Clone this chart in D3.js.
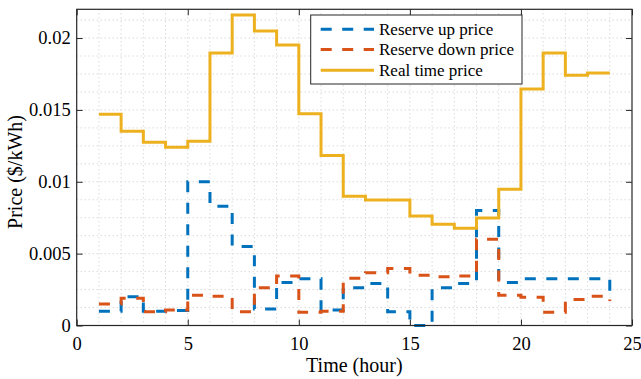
<!DOCTYPE html>
<html>
<head>
<meta charset="utf-8">
<script src="https://cdn.jsdelivr.net/npm/d3@7/dist/d3.min.js"></script>
<style>
  html, body { margin: 0; padding: 0; background: #fff; }
  svg { display: block; }
  text { font-family: "Liberation Serif", "Times New Roman", serif; fill: #000; }
</style>
</head>
<body>
<svg id="chart" width="641" height="379"></svg>
<script>
// Hourly prices ($/kWh), one value per hour 1..24
const hours = d3.range(1, 25);
const reserveUp = [0.0010, 0.0020, 0.0010, 0.00105, 0.0100, 0.0083, 0.0055, 0.00115,
                   0.0030, 0.00325, 0.00107, 0.00263, 0.00293, 0.00095, 0.0000, 0.00263,
                   0.00293, 0.0080, 0.0030, 0.00325, 0.00325, 0.00325, 0.00325, 0.0021];
const reserveDown = [0.0015, 0.0019, 0.00095, 0.00107, 0.0021, 0.00204, 0.00095, 0.00263,
                     0.00344, 0.00093, 0.0010, 0.00328, 0.00367, 0.00397, 0.0035, 0.00339,
                     0.00344, 0.0060, 0.0021, 0.00197, 0.00093, 0.00181, 0.00204, 0.0017];
const realTime = [0.0147, 0.01352, 0.01275, 0.0124, 0.01282, 0.01896, 0.0216, 0.02049,
                  0.01951, 0.01473, 0.01183, 0.0090, 0.00873, 0.00873, 0.00762, 0.00704,
                  0.00676, 0.00748, 0.00948, 0.01645, 0.01896, 0.01742, 0.01756, 0.01756];

const seriesNames = ["Reserve up price", "Reserve down price", "Real time price"];
const xTicks = [0, 5, 10, 15, 20, 25];
const yTicks = [0, 0.005, 0.01, 0.015, 0.02];
const yTickLabels = ["0", "0.005", "0.01", "0.015", "0.02"];

const series = [
  { name: seriesNames[0], values: reserveUp,   color: "#0072BD", dash: "11,10.5" },
  { name: seriesNames[1], values: reserveDown, color: "#D95319", dash: "11,10.5" },
  { name: seriesNames[2], values: realTime,    color: "#EDB120", dash: null }
];

const svg = d3.select("#chart");
const plotL = 76.7, plotR = 632, plotT = 9.3, plotB = 325.5;

const x = d3.scaleLinear().domain([0, 25]).range([plotL, plotR]);
const y = d3.scaleLinear().domain([0, 0.022]).range([plotB, plotT]);

// dotted grid: every hour and every quarter of a major y step
const grid = svg.append("g").attr("stroke", "#c8c8c8").attr("stroke-width", 1)
  .attr("stroke-dasharray", "1,3");
grid.selectAll("line.gx").data(d3.range(1, 25)).join("line")
  .attr("x1", d => x(d)).attr("x2", d => x(d)).attr("y1", plotT).attr("y2", plotB);
grid.selectAll("line.gy").data(d3.range(1, 18).map(i => i * 0.00125)).join("line")
  .attr("y1", d => y(d)).attr("y2", d => y(d)).attr("x1", plotL).attr("x2", plotR);

// stair lines
const line = d3.line().curve(d3.curveStepAfter)
  .x((d, i) => x(hours[i])).y(d => y(d));

svg.append("g").selectAll("path").data(series).join("path")
  .attr("d", d => line(d.values))
  .attr("fill", "none")
  .attr("stroke", d => d.color)
  .attr("stroke-width", 3)
  .attr("stroke-dasharray", d => d.dash);

// axes with inward ticks on all four sides
const axisColor = "#262626";
function styleAxis(g, fontSize) {
  g.select(".domain").remove();
  g.selectAll(".tick line").attr("stroke", axisColor).attr("stroke-width", 1);
  g.selectAll("text").attr("font-size", fontSize)
    .attr("font-family", "'Liberation Serif', 'Times New Roman', serif").attr("fill", "#000");
}
svg.append("g").attr("transform", `translate(0,${plotB})`)
  .call(d3.axisBottom(x).tickValues(xTicks).tickSize(-6).tickPadding(11.5).tickFormat(d3.format("d")))
  .call(g => styleAxis(g, "18.5px"));
svg.append("g").attr("transform", `translate(0,${plotT})`)
  .call(d3.axisTop(x).tickValues(xTicks).tickSize(-6).tickFormat(""))
  .call(g => styleAxis(g, "0px"));
svg.append("g").attr("transform", `translate(${plotL},0)`)
  .call(d3.axisLeft(y).tickValues(yTicks).tickSize(-6).tickPadding(6)
    .tickFormat((d, i) => yTickLabels[i]))
  .call(g => styleAxis(g, "18.5px"));
svg.append("g").attr("transform", `translate(${plotR},0)`)
  .call(d3.axisRight(y).tickValues(yTicks).tickSize(-6).tickFormat(""))
  .call(g => styleAxis(g, "0px"));

// axes box
svg.append("rect").attr("x", plotL).attr("y", plotT)
  .attr("width", plotR - plotL).attr("height", plotB - plotT)
  .attr("fill", "none").attr("stroke", axisColor).attr("stroke-width", 1.2);

// axis titles
svg.append("text").attr("x", (plotL + plotR) / 2).attr("y", 371.5)
  .attr("text-anchor", "middle").attr("font-size", "20px").text("Time (hour)");
svg.append("text").attr("transform", "translate(22,172) rotate(-90)")
  .attr("text-anchor", "middle").attr("font-size", "20px").text("Price ($/kWh)");

// legend
const lg = svg.append("g");
lg.append("rect").attr("x", 310.7).attr("y", 15).attr("width", 211.3).attr("height", 69)
  .attr("fill", "#fff").attr("stroke", axisColor).attr("stroke-width", 1);
const rowY = [29.3, 49.5, 70.3];
const rows = lg.selectAll("g.row").data(series).join("g")
  .attr("transform", (d, i) => `translate(0,${rowY[i]})`);
rows.append("line").attr("x1", 320.7).attr("x2", 374).attr("y1", 0).attr("y2", 0)
  .attr("stroke", d => d.color).attr("stroke-width", 3)
  .attr("stroke-dasharray", d => d.dash);
rows.append("text").attr("x", 379).attr("dy", "0.35em")
  .attr("font-size", "17px").text(d => d.name);
</script>
</body>
</html>
